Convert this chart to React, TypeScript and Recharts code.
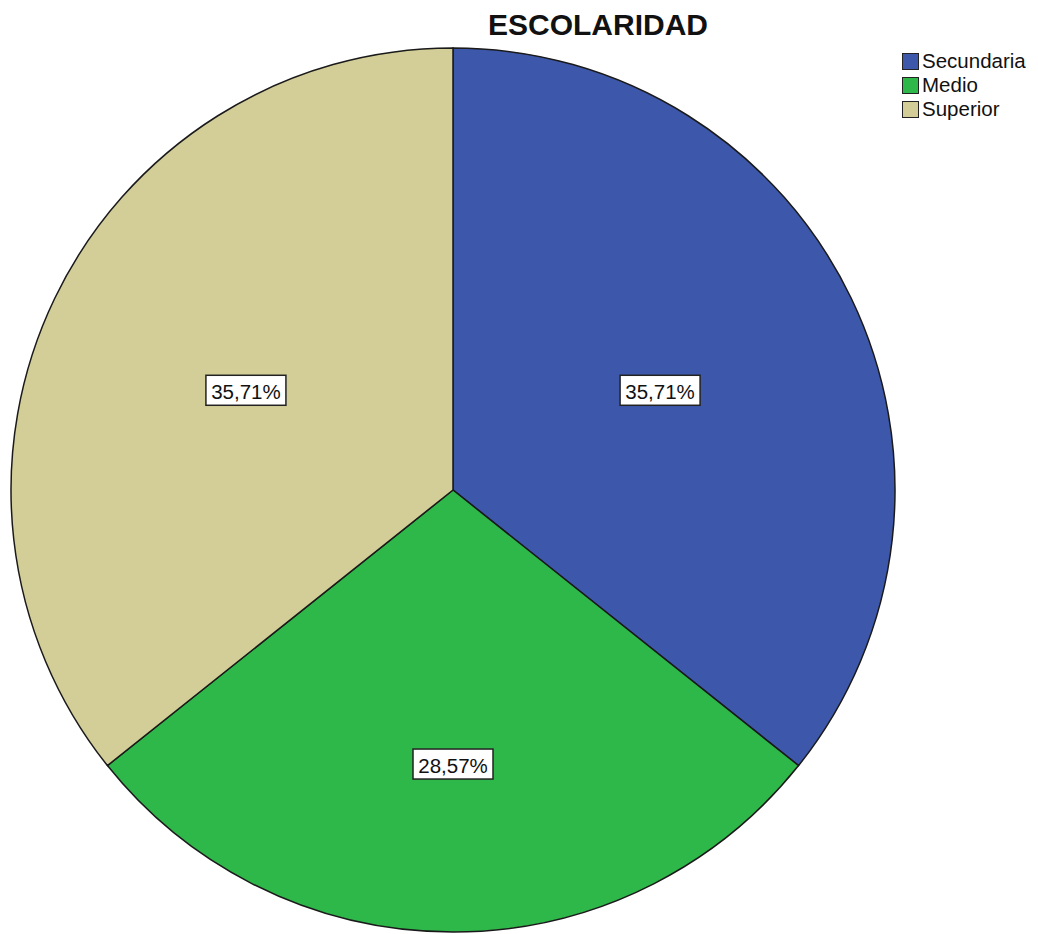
import React from "react";
import { PieChart, Pie, Cell, Legend } from "recharts";

const categories = ["Secundaria", "Medio", "Superior"];
const counts = [5, 4, 5];
const colors = ["#3d58aa", "#2fb84a", "#d3ce98"];
const title = "ESCOLARIDAD";

const data = categories.map((name, i) => ({ name, value: counts[i] }));
const total = counts.reduce((a, b) => a + b, 0);

const FONT = "'Liberation Sans', Arial, sans-serif";
const RAD = Math.PI / 180;

const renderLabel = (props: any) => {
  const { cx, cy, midAngle, outerRadius, value } = props;
  const pct = value / total;
  const r = outerRadius * (pct < 0.3 ? 0.62 : 0.52);
  const x = cx + r * Math.cos(-midAngle * RAD);
  const y = cy + r * Math.sin(-midAngle * RAD);
  const txt = (pct * 100).toFixed(2).replace(".", ",") + "%";
  return (
    <g>
      <rect x={x - 40} y={y - 15} width={80} height={30} fill="#ffffff" stroke="#222" strokeWidth={1.5} />
      <text x={x} y={y + 1} textAnchor="middle" dominantBaseline="central" fontFamily={FONT} fontSize={20.5} fill="#111">
        {txt}
      </text>
    </g>
  );
};

const renderLegend = (props: any) => {
  const payload = [...(props.payload || [])].sort(
    (a: any, b: any) => categories.indexOf(a.value) - categories.indexOf(b.value)
  );
  return (
    <div style={{ fontFamily: FONT, fontSize: 20.5, color: "#111" }}>
      {payload.map((p: any, i: number) => (
        <div key={i} style={{ display: "flex", alignItems: "center", height: 24 }}>
          <span
            style={{
              display: "inline-block",
              width: 17,
              height: 17,
              background: p.color,
              border: "1.5px solid #222",
              marginRight: 3,
              boxSizing: "border-box",
            }}
          />
          <span>{p.value}</span>
        </div>
      ))}
    </div>
  );
};

export default function App() {
  return (
    <div style={{ position: "absolute", left: 0, top: 0, width: 1038, height: 934, background: "#fff" }}>
      <div
        style={{
          position: "absolute",
          left: 0,
          width: 1196,
          top: 7,
          textAlign: "center",
          fontFamily: FONT,
          fontWeight: "bold",
          fontSize: 30,
          color: "#111",
          lineHeight: "36px",
        }}
      >
        {title}
      </div>
      <PieChart width={1038} height={934} margin={{ top: 0, right: 0, bottom: 0, left: 0 }}>
        <Pie
          data={data}
          dataKey="value"
          nameKey="name"
          cx={453}
          cy={490}
          outerRadius={442}
          startAngle={90}
          endAngle={-270}
          stroke="#1a1a1a"
          strokeWidth={1.5}
          label={renderLabel}
          labelLine={false}
          isAnimationActive={false}
        >
          {data.map((d, i) => (
            <Cell key={d.name} fill={colors[i]} />
          ))}
        </Pie>
        <Legend
          layout="vertical"
          align="right"
          verticalAlign="top"
          itemSorter={null as any}
          content={renderLegend}
          wrapperStyle={{ position: "absolute", top: 49, left: 902, width: 136 }}
        />
      </PieChart>
    </div>
  );
}
